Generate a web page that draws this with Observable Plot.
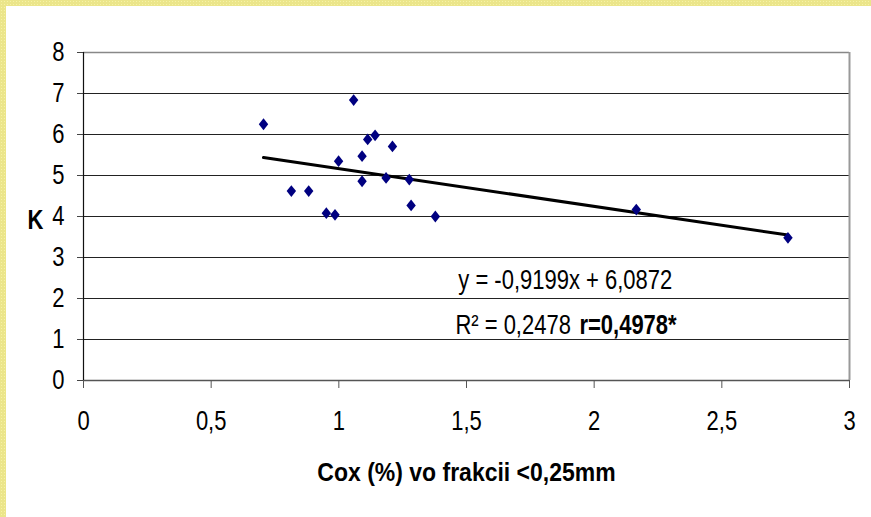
<!DOCTYPE html>
<html>
<head>
<meta charset="utf-8">
<script src="https://cdn.jsdelivr.net/npm/d3@7"></script>
<script src="https://cdn.jsdelivr.net/npm/@observablehq/plot@0.6"></script>
<style>
  html, body { margin: 0; padding: 0; background: white; }
  #wrap { position: relative; width: 871px; height: 517px; overflow: hidden; background: white; }
  .band { position: absolute; background-color: #ebe58a;
    background-image: radial-gradient(#f6f2a6 30%, transparent 31%);
    background-size: 3px 3px; }
  #top { left: 0; top: 0; width: 871px; height: 6px; }
  #left { left: 0; top: 0; width: 6px; height: 517px; }
  #chart { position: absolute; left: 0; top: 0; }
</style>
</head>
<body>
<div id="wrap">
  <div id="chart"></div>
  <div class="band" id="top"></div>
  <div class="band" id="left"></div>
</div>
<script>
// Data: Cox (%) in fraction <0.25 mm vs K
const coxValues = [0.705, 0.814, 0.882, 0.951, 0.985, 0.999, 1.058, 1.091, 1.091, 1.113, 1.142, 1.185, 1.210, 1.276, 1.283, 1.378, 2.165, 2.759];
const kValues   = [6.25, 4.62, 4.62, 4.08, 4.04, 5.35, 6.84, 5.47, 4.86, 5.88, 5.98, 4.94, 5.71, 4.90, 4.27, 4.00, 4.17, 3.48];

// Trendline as stated on the chart
const slope = -0.9199;
const intercept = 6.0872;
const rSquaredText = "R² = 0,2478";
const rText = "r=0,4978*";

const xTicks = [0, 0.5, 1, 1.5, 2, 2.5, 3];
const xTickLabels = ["0", "0,5", "1", "1,5", "2", "2,5", "3"];
const yTicks = [0, 1, 2, 3, 4, 5, 6, 7, 8];

const xTitle = "Cox (%) vo frakcii <0,25mm";
const yTitle = "K";

const points = coxValues.map((x, i) => ({x, y: kValues[i]}));
const xmin = d3.min(coxValues), xmax = d3.max(coxValues);
const trend = [xmin, xmax].map(x => ({x, y: slope * x + intercept}));
const fmt = v => String(Math.abs(v)).replace(".", ",");
const eqText = `y = ${slope < 0 ? "-" : ""}${fmt(slope)}x + ${fmt(intercept)}`;

const diamond = {
  draw(context, size) {
    const h = Math.sqrt(size / 1.6), w = h * 0.8;
    context.moveTo(0, -h);
    context.lineTo(w, 0);
    context.lineTo(0, h);
    context.lineTo(-w, 0);
    context.closePath();
  }
};

const font = "'Liberation Sans', Arial, sans-serif";

const chart = Plot.plot({
  width: 871,
  height: 517,
  marginLeft: 83,
  marginRight: 22,
  marginTop: 52,
  marginBottom: 137,
  style: {fontFamily: font, fontSize: "22px", background: "white", color: "black", overflow: "visible"},
  x: {domain: [0, 3], label: null},
  y: {domain: [0, 8], label: null},
  marks: [
    Plot.gridY(yTicks.slice(1, -1), {stroke: "#222", strokeOpacity: 1, strokeWidth: 1}),
    Plot.ruleY([8], {stroke: "#888", strokeWidth: 1.5}),
    Plot.ruleX([3], {stroke: "#999", strokeWidth: 2}),
    Plot.ruleY([0], {stroke: "#555", strokeWidth: 1.3}),
    Plot.ruleX([0], {stroke: "#111", strokeWidth: 1.2}),
    Plot.axisY({ticks: yTicks, tickSize: 6, tickPadding: 13, fontSize: 22, label: null, stroke: "#444"}),
    Plot.axisX({ticks: xTicks, tickFormat: (d) => xTickLabels[xTicks.indexOf(d)], tickSize: 8, tickPadding: 24, fontSize: 22, label: null, stroke: "#555"}),
    Plot.line(trend, {x: "x", y: "y", stroke: "black", strokeWidth: 3}),
    Plot.dot(points, {x: "x", y: "y", symbol: diamond, r: 4.2, fill: "#000080", stroke: "none"}),
    Plot.text([eqText], {x: 1.468, y: 2.27, text: d => d, textAnchor: "start", lineAnchor: "bottom", fontSize: 22, fill: "black"}),
    Plot.text([rSquaredText], {x: 1.4565, y: 1.184, text: d => d, textAnchor: "start", lineAnchor: "bottom", fontSize: 22, fill: "black"}),
    Plot.text([rText], {x: 1.9424, y: 1.184, text: d => d, textAnchor: "start", lineAnchor: "bottom", fontSize: 22, fontWeight: "bold", fill: "black"}),
    Plot.text([yTitle], {frameAnchor: "left", dx: -48, dy: 4, text: d => d, textAnchor: "middle", lineAnchor: "middle", fontSize: 22, fontWeight: "bold", fill: "black"}),
    Plot.text([xTitle], {frameAnchor: "bottom", dy: 92, text: d => d, textAnchor: "middle", lineAnchor: "middle", fontSize: 23, fontWeight: "bold", fill: "black"})
  ]
});

document.getElementById("chart").appendChild(chart);

// The source chart's lettering is vertically stretched; mimic that around each text's own centre.
d3.select(chart).selectAll("text").each(function () {
  const stretch = this.textContent === xTitle ? 1.12 : 1.22;
  const b = this.getBBox();
  const cy = b.y + b.height / 2;
  const old = this.getAttribute("transform") || "";
  this.setAttribute("transform", `${old} translate(0,${cy}) scale(1,${stretch}) translate(0,${-cy})`.trim());
});
</script>
</body>
</html>
